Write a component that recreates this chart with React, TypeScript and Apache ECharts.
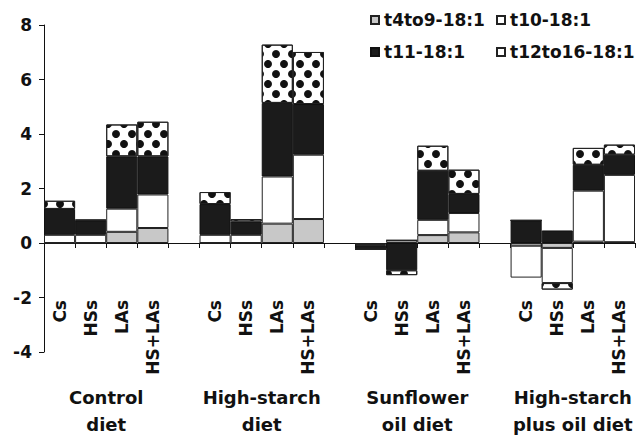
import React, { useEffect, useRef } from 'react';
import * as echarts from 'echarts';

// ---- data ----
const barLabels = ['Cs', 'HSs', 'LAs', 'HS+LAs'];
const dietGroups = ['Control\ndiet', 'High-starch\ndiet', 'Sunflower\noil diet', 'High-starch\nplus oil diet'];
const seriesNames = ['t4to9-18:1', 't10-18:1', 't11-18:1', 't12to16-18:1'];

// values per bar, 4 bars per diet group (Control, High-starch, Sunflower, High-starch+oil)
const t4to9 = [0, 0, 0.41, 0.55, 0, 0, 0.71, 0.88, -0.04, 0.1, 0.29, 0.39, -0.1, -0.18, 0.05, 0.03];
const t10 = [0.3, 0.3, 0.85, 1.23, 0.3, 0.3, 1.73, 2.36, -0.04, 0, 0.56, 0.71, -1.17, -1.29, 1.87, 2.47];
const t11 = [0.95, 0.53, 1.92, 1.4, 1.13, 0.49, 2.7, 1.86, -0.15, -1.0, 1.8, 0.7, 0.83, 0.46, 0.95, 0.74];
const t12to16 = [0.3, 0.02, 1.17, 1.27, 0.44, 0.09, 2.14, 1.91, 0, -0.18, 0.92, 0.89, 0, -0.24, 0.62, 0.37];

const yMin = -4;
const yMax = 8;
const yStep = 2;

// ---- helpers: insert an empty slot between diet groups ----
function withGaps<T>(values: T[], gap: T): T[] {
  const out: T[] = [];
  values.forEach((v, i) => {
    if (i > 0 && i % barLabels.length === 0) out.push(gap);
    out.push(v);
  });
  return out;
}

const categoryIds: string[] = withGaps(
  dietGroups.flatMap((g, gi) => barLabels.map((b) => `${gi}|${b}`)),
  '',
).map((c, i) => (c === '' ? `gap${i}` : c));

const slotCount = categoryIds.length;
// centre (in slot units) of each diet group, measured from the left edge
const groupCentres = dietGroups.map((_, gi) => gi * (barLabels.length + 1) + barLabels.length / 2);

const FONT = 'DejaVu Sans';

// plot geometry
const GL = 44;
const GT = 25;
const GW = 591;
const GH = 327;
const zeroY = GT + (GH * yMax) / (yMax - yMin);

export default function App() {
  const ref = useRef<HTMLDivElement>(null);

  useEffect(() => {
    if (!ref.current) return;
    const chart = echarts.init(ref.current, undefined, { renderer: 'svg' });

    const border = '#222';
    const mk = (name: string, values: number[], itemStyle: any) => ({
      name,
      type: 'bar',
      stack: 'all',
      barCategoryGap: '0%',
      barWidth: '100%',
      xAxisIndex: 0,
      yAxisIndex: 0,
      data: withGaps<number | null>(values, null),
      itemStyle: { borderColor: border, borderWidth: 1, ...itemStyle },
      emphasis: { disabled: true },
    });

    const legendText = { fontFamily: FONT, fontWeight: 'bold', fontSize: 17, color: '#111', lineHeight: 20 };

    const option: any = {
      animation: false,
      backgroundColor: '#fff',
      grid: [
        { left: GL, top: GT, width: GW, height: GH, containLabel: false, outerBoundsMode: 'none' },
        { left: GL, top: GT + GH, width: GW, height: 1, containLabel: false, outerBoundsMode: 'none' },
        { left: GL, top: zeroY - 1, width: GW, height: 1, containLabel: false, outerBoundsMode: 'none' },
      ],
      legend: [
        {
          orient: 'vertical',
          left: 370,
          top: 10,
          padding: 0,
          itemGap: 12,
          itemWidth: 8,
          itemHeight: 8,
          icon: 'rect',
          data: [seriesNames[0], seriesNames[2]],
          textStyle: legendText,
        },
        {
          orient: 'vertical',
          left: 496,
          top: 10,
          padding: 0,
          itemGap: 12,
          itemWidth: 8,
          itemHeight: 8,
          icon: 'rect',
          data: [seriesNames[1], seriesNames[3]],
          textStyle: legendText,
        },
      ],
      xAxis: [
        {
          type: 'category',
          gridIndex: 0,
          data: categoryIds,
          boundaryGap: true,
          axisLine: { show: true, onZero: true, lineStyle: { color: '#111', width: 1 } },
          axisTick: { show: true, interval: 0, length: 5, lineStyle: { color: '#111' } },
          axisLabel: { show: false },
          splitLine: { show: false },
        },
        {
          type: 'value',
          gridIndex: 1,
          min: 0,
          max: slotCount,
          position: 'bottom',
          axisLine: { show: false, onZero: false },
          axisTick: { show: false },
          splitLine: { show: false },
          axisLabel: {
            customValues: groupCentres,
            margin: 31,
            fontFamily: FONT,
            fontWeight: 'bold',
            fontSize: 18,
            lineHeight: 27,
            color: '#111',
            formatter: (v: number) => {
              const i = groupCentres.indexOf(v);
              return i >= 0 ? dietGroups[i] : '';
            },
          },
        },
        {
          type: 'category',
          gridIndex: 2,
          data: categoryIds,
          boundaryGap: true,
          position: 'bottom',
          axisLine: { show: false, onZero: false },
          axisTick: { show: false },
          splitLine: { show: false },
          axisLabel: {
            interval: 0,
            rotate: 90,
            margin: 57,
            hideOverlap: false,
            fontFamily: FONT,
            fontWeight: 'bold',
            fontSize: 17,
            color: '#111',
            formatter: (v: string) => (v.startsWith('gap') ? '' : v.split('|')[1]),
          },
        },
      ],
      yAxis: [
        {
          type: 'value',
          gridIndex: 0,
          min: yMin,
          max: yMax,
          interval: yStep,
          axisLine: { show: true, lineStyle: { color: '#111', width: 1 } },
          axisTick: { show: true, length: 5, lineStyle: { color: '#111' } },
          splitLine: { show: false },
          axisLabel: {
            margin: 12,
            fontFamily: FONT,
            fontWeight: 'bold',
            fontSize: 17,
            color: '#111',
          },
        },
        { type: 'value', gridIndex: 1, show: false },
        { type: 'value', gridIndex: 2, show: false },
      ],
      series: [
        mk(seriesNames[0], t4to9, { color: '#c8c8c8' }),
        mk(seriesNames[1], t10, { color: '#ffffff' }),
        mk(seriesNames[2], t11, { color: '#1b1b1b', borderColor: '#111' }),
        mk(seriesNames[3], t12to16, {
          color: '#ffffff',
          decal: {
            symbol: 'circle',
            symbolSize: 1,
            symbolKeepAspect: true,
            color: '#111',
            backgroundColor: '#ffffff',
            dashArrayX: [
              [8, 8],
              [0, 8, 8, 0],
            ],
            dashArrayY: [8, 1.5],
          },
        }),
      ],
    };

    chart.setOption(option);
    return () => chart.dispose();
  }, []);

  return (
    <div
      ref={ref}
      style={{ position: 'fixed', left: 0, top: 0, width: 636, height: 448, background: '#fff' }}
    />
  );
}
